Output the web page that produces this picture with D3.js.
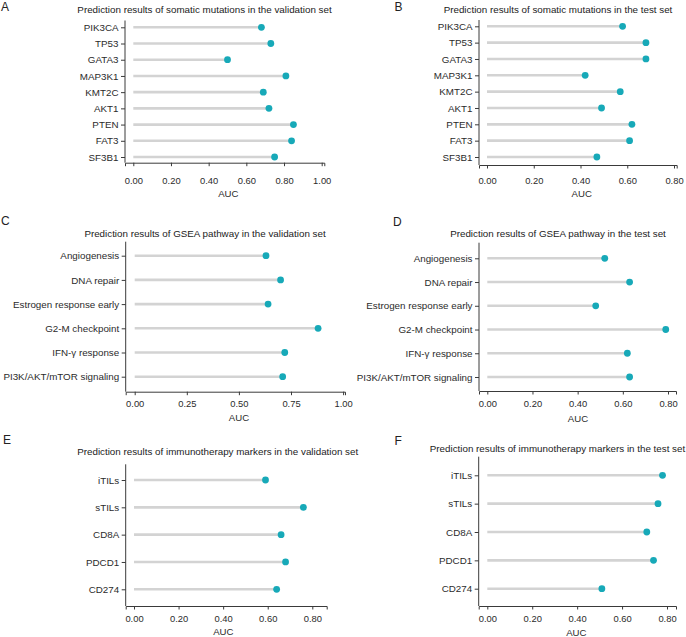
<!DOCTYPE html>
<html>
<head>
<meta charset="utf-8">
<script src="https://cdn.jsdelivr.net/npm/d3@7"></script>
<style>
  html, body { margin: 0; padding: 0; background: #fff; }
  svg { display: block; }
  text { font-family: "Liberation Sans", Arial, Helvetica, sans-serif; }
</style>
</head>
<body>
<svg id="chart" width="686" height="637"></svg>
<script>
// ---- Data ----
const somaticGenes = ["PIK3CA", "TP53", "GATA3", "MAP3K1", "KMT2C", "AKT1", "PTEN", "FAT3", "SF3B1"];
const somaticValidation = [0.68, 0.73, 0.50, 0.81, 0.69, 0.72, 0.85, 0.84, 0.75];
const somaticTest = [0.58, 0.68, 0.68, 0.42, 0.57, 0.49, 0.62, 0.61, 0.47];

const gseaPathways = ["Angiogenesis", "DNA repair", "Estrogen response early", "G2-M checkpoint", "IFN-\u03b3 response", "PI3K/AKT/mTOR signaling"];
const gseaValidation = [0.63, 0.70, 0.64, 0.88, 0.72, 0.71];
const gseaTest = [0.52, 0.63, 0.48, 0.79, 0.62, 0.63];

const immuneMarkers = ["iTILs", "sTILs", "CD8A", "PDCD1", "CD274"];
const immuneValidation = [0.59, 0.76, 0.66, 0.68, 0.64];
const immuneTest = [0.78, 0.76, 0.71, 0.74, 0.51];

const ticksTo1 = [0, 0.2, 0.4, 0.6, 0.8, 1.0];
const ticksTo08 = [0, 0.2, 0.4, 0.6, 0.8];
const ticksQuarter = [0, 0.25, 0.5, 0.75, 1.0];

const titles = [
  "Prediction results of somatic mutations in the validation set",
  "Prediction results of somatic mutations in the test set",
  "Prediction results of GSEA pathway in the validation set",
  "Prediction results of GSEA pathway in the test set",
  "Prediction results of immunotherapy markers in the validation set",
  "Prediction results of immunotherapy markers in the test set"
];
const letters = ["A", "B", "C", "D", "E", "F"];
const xLabel = "AUC";

// ---- Layout (pixel geometry per panel) ----
const layout = [
  {aL:125, aR:324.3, aT:20.5, aB:162.7, r0:27.3, r1:157, x0:133.3, xt:321.7, tv:1.0, tly:180.7, aucX:228.3, aucY:193.3, tx:204.5, ty:9.3, lx:1, ly:11},
  {aL:479, aR:676.7, aT:20, aB:165, r0:26.3, r1:157, x0:487, xt:674, tv:0.8, tly:180.7, aucX:581.7, aucY:193.3, tx:558, ty:9.3, lx:394.5, ly:11},
  {aL:125.7, aR:345, aT:241.7, aB:391.7, r0:255.7, r1:376.7, x0:134.7, xt:291, tv:0.75, tly:404, aucX:239, aucY:418, tx:205, ty:233.3, lx:1, ly:225},
  {aL:479, aR:676, aT:242.7, aB:391, r0:258.3, r1:377, x0:487.3, xt:668, tv:0.8, tly:404, aucX:578, aucY:419, tx:558, ty:234, lx:393, ly:226},
  {aL:125.7, aR:326.7, aT:464.3, aB:606, r0:480, r1:589.3, x0:134, xt:312.3, tv:0.8, tly:619, aucX:223.3, aucY:632, tx:217.7, ty:451.7, lx:3, ly:444},
  {aL:478.7, aR:676, aT:456.7, aB:606, r0:475.3, r1:588.7, x0:487.3, xt:667, tv:0.8, tly:619, aucX:576.3, aucY:632.3, tx:557.5, ty:448.3, lx:394.5, ly:445}
];

const panels = [
  {cats: somaticGenes, vals: somaticValidation, ticks: ticksTo1},
  {cats: somaticGenes, vals: somaticTest, ticks: ticksTo08},
  {cats: gseaPathways, vals: gseaValidation, ticks: ticksQuarter},
  {cats: gseaPathways, vals: gseaTest, ticks: ticksTo08},
  {cats: immuneMarkers, vals: immuneValidation, ticks: ticksTo08},
  {cats: immuneMarkers, vals: immuneTest, ticks: ticksTo08}
];

const dotColor = "#17a9b8";
const segColor = "#d3d3d3";
const axisColor = "#3a3a3a";
const textColor = "#2b2b2b";

const svg = d3.select("#chart");

panels.forEach((p, i) => {
  const L = layout[i];
  const g = svg.append("g");

  // x scale: base mapping from tick positions, extended to axis ends
  const base = d3.scaleLinear().domain([0, L.tv]).range([L.x0, L.xt]);
  const x = d3.scaleLinear().domain([base.invert(L.aL), base.invert(L.aR)]).range([L.aL, L.aR]);
  const y = d3.scalePoint().domain(p.cats).range([L.r0, L.r1]);

  // segments
  g.selectAll("line.seg").data(p.cats).join("line")
    .attr("class", "seg")
    .attr("x1", x(0))
    .attr("x2", (d, j) => x(p.vals[j]))
    .attr("y1", d => y(d)).attr("y2", d => y(d))
    .attr("stroke", segColor).attr("stroke-width", 2.6);

  // dots
  g.selectAll("circle.dot").data(p.cats).join("circle")
    .attr("class", "dot")
    .attr("cx", (d, j) => x(p.vals[j]))
    .attr("cy", d => y(d))
    .attr("r", 3.4)
    .attr("fill", dotColor);

  // x axis
  const xa = g.append("g").attr("transform", `translate(0,${L.aB})`)
    .call(d3.axisBottom(x).tickValues(p.ticks).tickFormat(d3.format(".2f")).tickSizeOuter(0).tickSize(3.5).tickPadding(L.tly - L.aB - 3.5 - 3.3));
  xa.select(".domain").attr("stroke", axisColor).attr("stroke-width", 1);
  xa.selectAll(".tick line").attr("stroke", axisColor);
  xa.selectAll(".tick text").attr("fill", textColor).style("font-size", "9.4px")
    .style("font-family", '"Liberation Sans", Arial, sans-serif');

  // y axis
  const ya = g.append("g").attr("transform", `translate(${L.aL},0)`)
    .call(d3.axisLeft(y).tickSize(4).tickPadding(2.5).tickSizeOuter(0));
  ya.select(".domain").remove();
  ya.append("line").attr("x1", 0).attr("x2", 0).attr("y1", L.aT).attr("y2", L.aB)
    .attr("stroke", axisColor).attr("stroke-width", 1);
  ya.selectAll(".tick line").attr("stroke", axisColor);
  ya.selectAll(".tick text").attr("fill", textColor).style("font-size", "9.8px")
    .style("font-family", '"Liberation Sans", Arial, sans-serif');

  // x label
  g.append("text").attr("x", L.aucX).attr("y", L.aucY).attr("dy", "0.35em")
    .attr("text-anchor", "middle").attr("fill", textColor)
    .style("font-size", "9.6px").text(xLabel);

  // title
  g.append("text").attr("x", L.tx).attr("y", L.ty).attr("dy", "0.35em")
    .attr("text-anchor", "middle").attr("fill", "#222")
    .style("font-size", "9.8px").text(titles[i]);

  // panel letter
  g.append("text").attr("x", L.lx).attr("y", L.ly)
    .attr("fill", "#222").style("font-size", "12px").text(letters[i]);
});
</script>
</body>
</html>
